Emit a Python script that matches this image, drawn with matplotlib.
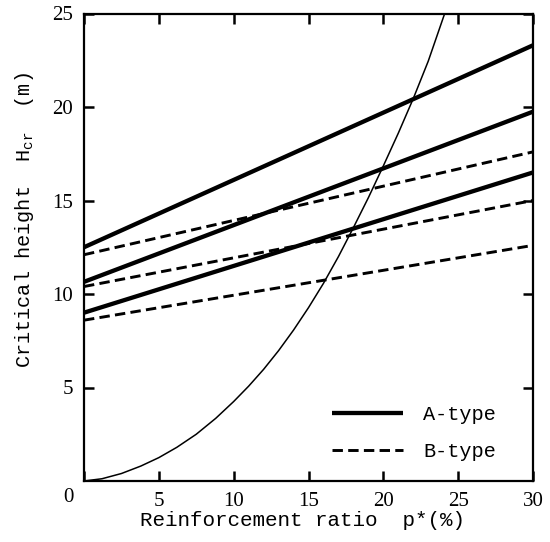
import matplotlib
matplotlib.use("Agg")
import matplotlib.pyplot as plt
from matplotlib.transforms import offset_copy

# ---- data ----
x_ends = [0, 30]
a_type = [[12.5, 23.3], [10.65, 19.75], [9.0, 16.5]]
b_type = [[12.1, 17.6], [10.4, 15.0], [8.6, 12.6]]

curve_x = [0, 1.2, 2.5, 3.8, 5, 6.2, 7.5, 8.8, 10, 11, 12, 13, 14, 15, 16, 17, 18, 19, 20, 21, 22, 23, 24.1]
curve_y = [0, 0.12, 0.4, 0.8, 1.25, 1.8, 2.5, 3.35, 4.25, 5.07, 5.97, 6.97, 8.07, 9.27, 10.57, 12.0,
           13.55, 15.15, 16.85, 18.6, 20.45, 22.45, 25.0]

xticks = [0, 5, 10, 15, 20, 25, 30]
yticks = [5, 10, 15, 20, 25]
xlabels = ["", "5", "10", "15", "20", "25", "30"]
ylabels = ["5", "10", "15", "20", "25"]
legend_labels = ["A-type", "B-type"]

mono = "Liberation Mono"
serif = "Liberation Serif"
plt.rcParams['lines.scale_dashes'] = False
plt.rcParams['mathtext.fontset'] = 'custom'
plt.rcParams['mathtext.rm'] = mono

fig = plt.figure(figsize=(5.5, 5.42), dpi=100)
ax = fig.add_axes([84/550, 1-481/542, 449/550, 467.5/542])

ha = hb = None
for ys in a_type:
    ha, = ax.plot(x_ends, ys, color="black", lw=3.1, solid_capstyle="butt")
for ys in b_type:
    hb, = ax.plot(x_ends, ys, color="black", lw=2.1, dashes=(7.5, 3.8))
ax.plot(curve_x, curve_y, color="black", lw=1.1)

ax.set_xlim(0, 30)
ax.set_ylim(0, 25)
ax.set_xticks(xticks)
ax.set_xticklabels(xlabels)
ax.set_yticks(yticks)
ax.set_yticklabels(ylabels)
ax.tick_params(direction="in", length=7, width=1.8, top=True, right=True,
               labelsize=15, pad=8)
for lab in ax.get_xticklabels() + ax.get_yticklabels():
    lab.set_fontfamily(serif)
for s in ax.spines.values():
    s.set_linewidth(1.6)

# origin label "0"
ax.text(0, 0, "0", transform=offset_copy(ax.transData, fig=fig, x=-16, y=-17, units="dots"),
        ha="center", va="center", fontsize=15, family=serif)

fig.text(302/550, 1-520/542, "Reinforcement ratio  p*(%)", family=mono, fontsize=15,
         ha="center", va="center")
fig.text(25/550, 1-220/542, r"Critical height  H$_{\mathregular{cr}}$  (m)", family=mono,
         fontsize=14.6, rotation=90, ha="center", va="center")

leg = ax.legend([ha, hb], legend_labels, loc="upper left",
                bbox_to_anchor=((332-84)/449, (481-405)/467.5),
                frameon=False, borderpad=0, borderaxespad=0, handlelength=3.5,
                handletextpad=1.0, labelspacing=0.9, prop={"family": mono, "size": 14.6})

fig.savefig("out.png", dpi=100, facecolor="white")
